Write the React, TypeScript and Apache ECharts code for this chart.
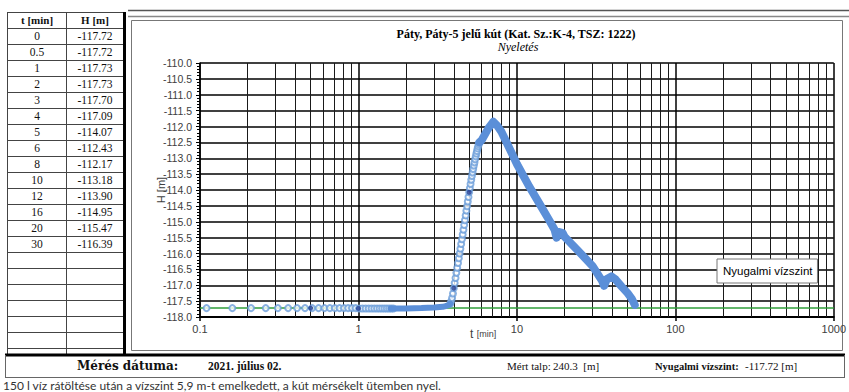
import React, { useEffect, useRef } from "react";
import * as echarts from "echarts";

// ---- data ----
const tableT = [0, 0.5, 1, 2, 3, 4, 5, 6, 8, 10, 12, 16, 20, 30];
const tableH = [-117.72, -117.72, -117.73, -117.73, -117.7, -117.09, -114.07, -112.43, -112.17, -113.18, -113.9, -114.95, -115.47, -116.39];
const restLevel = -117.72;
const emptyRows = 6;

const flatCircleT = [0.11, 0.16, 0.21, 0.26, 0.31, 0.36, 0.41, 0.46, 0.51, 0.56, 0.61, 0.66, 0.71, 0.76, 0.81, 0.86, 0.91, 0.96, 1.01, 1.06, 1.11, 1.16, 1.21, 1.26, 1.31, 1.36, 1.41, 1.46, 1.51, 1.56, 1.61, 1.66];
const flatCircleH = [-117.72, -117.72, -117.72, -117.72, -117.72, -117.72, -117.72, -117.72, -117.72, -117.72, -117.72, -117.72, -117.72, -117.72, -117.72, -117.72, -117.72, -117.72, -117.73, -117.73, -117.73, -117.73, -117.73, -117.73, -117.73, -117.73, -117.73, -117.73, -117.73, -117.73, -117.73, -117.73];

const riseT = [3.8, 3.85, 3.9, 3.95, 4.0, 4.05, 4.1, 4.15, 4.2, 4.25, 4.3, 4.35, 4.4, 4.45, 4.5, 4.55, 4.6, 4.65, 4.7, 4.75, 4.8, 4.85, 4.9, 4.95, 5.0, 5.05, 5.1, 5.15, 5.2, 5.25, 5.3, 5.35, 5.4, 5.45, 5.5, 5.55, 5.6, 5.65, 5.7, 5.75, 5.8];
const riseH = [-117.58, -117.5, -117.4, -117.26, -117.09, -116.93, -116.77, -116.61, -116.45, -116.3, -116.15, -116.0, -115.85, -115.7, -115.55, -115.4, -115.25, -115.1, -114.95, -114.8, -114.65, -114.51, -114.36, -114.22, -114.07, -113.94, -113.81, -113.68, -113.56, -113.45, -113.34, -113.23, -113.13, -113.03, -112.94, -112.85, -112.77, -112.69, -112.62, -112.56, -112.5];

const flatLineT = [1.6, 2, 2.5, 3, 3.4, 3.6, 3.75, 3.8];
const flatLineH = [-117.73, -117.73, -117.72, -117.7, -117.68, -117.65, -117.61, -117.58];

const declineT = [5.8, 6, 6.3, 6.6, 6.9, 7.1, 7.5, 8, 9, 10, 12, 14, 16, 17.3, 17.8, 18.3, 19.5, 20, 24, 30, 34.5, 35.5, 37, 39.5, 42, 46, 50, 53, 55.5];
const declineH = [-112.5, -112.43, -112.24, -112.06, -111.93, -111.85, -111.97, -112.17, -112.7, -113.18, -113.9, -114.46, -114.95, -115.25, -115.5, -115.32, -115.36, -115.47, -115.88, -116.39, -116.86, -117.02, -116.8, -116.72, -116.82, -117.05, -117.25, -117.42, -117.62];

const xTickLabels = ["0.1", "1", "10", "100", "1000"];
const decades = [0.1, 1, 10, 100];
const minorMult = [2, 3, 4, 5, 6, 7, 8, 9];

const titleText = "Páty, Páty-5 jelű kút (Kat. Sz.:K-4, TSZ: 1222)";
const subTitleText = "Nyeletés";
const legendText = "Nyugalmi vízszint";
const captionText = "150 l víz rátöltése után a vízszint 5,9 m-t emelkedett, a kút mérsékelt ütemben nyel.";

const serif = "'Liberation Serif', 'Times New Roman', serif";
const sans = "'Liberation Sans', Arial, sans-serif";

const zip = (a: number[], b: number[]) => a.map((v, i) => [v, b[i]]);

function buildGraphics() {
  const g: any[] = [];
  const ln = (x1: number, y1: number, x2: number, y2: number, stroke: string, lw: number) => ({
    type: "line",
    silent: true,
    shape: { x1, y1, x2, y2 },
    style: { stroke, lineWidth: lw },
  });
  const tx = (
    text: string,
    x: number,
    y: number,
    size: number,
    family: string,
    weight = "normal",
    align = "left",
    fill = "#111",
    fontStyle = "normal"
  ) => ({
    type: "text",
    silent: true,
    x,
    y,
    style: { text, fontSize: size, fontFamily: family, fontWeight: weight, fontStyle, fill, textAlign: align, textVerticalAlign: "middle" },
  });

  // top double rule
  g.push(ln(128, 10.5, 849, 10.5, "#555", 1.5));
  g.push(ln(128, 16.5, 849, 16.5, "#888", 1.5));
  // chart box
  g.push({ type: "rect", silent: true, shape: { x: 131.5, y: 20.5, width: 711, height: 330 }, style: { fill: "none", stroke: "#777", lineWidth: 1 } });

  // table
  const top = 12;
  const rh = 16;
  const nRows = 1 + tableT.length + emptyRows;
  const bottom = 355;
  for (let i = 0; i <= nRows; i++) {
    const y = top + i * rh + 0.5;
    if (y < bottom - 2) g.push(ln(7, y, 123, y, "#444", 1));
  }
  g.push(ln(7.5, top, 7.5, bottom, "#444", 1));
  g.push(ln(66.5, top, 66.5, bottom, "#444", 1));
  g.push(ln(124.5, top, 124.5, bottom, "#000", 3));
  g.push(tx("t [min]", 37, top + 8, 11, serif, "bold", "center"));
  g.push(tx("H [m]", 95, top + 8, 11, serif, "bold", "center"));
  tableT.forEach((t, i) => {
    const y = top + rh * (i + 1) + 8;
    g.push(tx(String(t), 37, y, 11.5, serif, "normal", "center"));
    g.push(tx(tableH[i].toFixed(2), 95, y, 11.5, serif, "normal", "center"));
  });

  // bottom info row
  g.push(ln(5, bottom, 845, bottom, "#000", 3));
  g.push(ln(5.5, bottom, 5.5, 377, "#666", 1));
  g.push(ln(844.5, bottom, 844.5, 377, "#666", 1));
  g.push(ln(5, 377.5, 845, 377.5, "#666", 1));
  g.push(tx("Mérés dátuma:", 77, 366, 12, "'DejaVu Serif', serif", "bold"));
  g.push(tx("2021. július 02.", 208, 366, 11.5, serif, "bold"));
  g.push(tx("Mért talp:", 507, 366, 11, serif));
  g.push(tx("240.3  [m]", 553, 366, 11, serif));
  g.push(tx("Nyugalmi vízszint:", 655, 366, 10.5, serif, "bold"));
  g.push(tx("-117.72 [m]", 745, 366, 11, serif));

  // caption
  g.push(tx(captionText, 3, 385, 12, "Lato, sans-serif", "normal", "left", "#333"));

  // chart title
  g.push(tx(titleText, 516, 34, 12, serif, "bold", "center", "#000"));
  g.push(tx(subTitleText, 518, 47, 12, serif, "normal", "center", "#000", "italic"));

  // x axis name
  g.push({
    type: "text",
    silent: true,
    x: 470,
    y: 334,
    style: {
      text: "{a|t} {b|[min]}",
      textVerticalAlign: "middle",
      rich: {
        a: { fontSize: 12, fontFamily: sans, fill: "#404040" },
        b: { fontSize: 9, fontFamily: sans, fill: "#404040" },
      },
    },
  });
  return g;
}

export default function App() {
  const ref = useRef<HTMLDivElement>(null);
  useEffect(() => {
    document.body.style.margin = "0";
    if (!ref.current) return;
    const chart = echarts.init(ref.current, undefined, { renderer: "svg" });
    const minorGridX: number[] = [];
    decades.forEach((d) => minorMult.forEach((m) => minorGridX.push(+(d * m).toPrecision(6))));
    const tablePts = tableT.map((t, i) => [t, tableH[i]]).filter((p) => p[0] > 0);

    const option: any = {
      animation: false,
      backgroundColor: "#fff",
      textStyle: { fontFamily: sans },
      grid: { left: 200, top: 63, width: 636, height: 254, containLabel: false },
      legend: {
        data: [legendText],
        left: 717,
        top: 259,
        icon: "none",
        itemWidth: 0,
        itemHeight: 0,
        itemGap: 0,
        padding: [6, 5, 6, 1],
        backgroundColor: "#fff",
        borderColor: "#777",
        borderWidth: 1,
        selectedMode: false,
        textStyle: { fontFamily: sans, fontSize: 11.5, color: "#000" },
      },
      xAxis: {
        type: "log",
        logBase: 10,
        min: 0.1,
        max: 1000,
        axisLine: { show: true, onZero: false, lineStyle: { color: "#000", width: 2 } },
        axisTick: { show: true, length: 4, lineStyle: { color: "#000", width: 1.5 } },
        axisLabel: {
          color: "#404040",
          fontSize: 11,
          fontFamily: sans,
          margin: 6,
          formatter: (v: number) => {
            const s = String(+Number(v).toPrecision(6));
            return xTickLabels.includes(s) ? s : "";
          },
        },
        splitLine: { show: true, lineStyle: { color: "#000", width: 1.5 } },
        minorTick: { show: false },
        minorSplitLine: { show: false },
      },
      yAxis: {
        type: "value",
        min: -118,
        max: -110,
        interval: 0.5,
        name: "H [m]",
        nameLocation: "middle",
        nameRotate: 90,
        nameGap: 33,
        nameMoveOverlap: false,
        nameTextStyle: { color: "#404040", fontSize: 11, fontFamily: sans, backgroundColor: "#fff", padding: [1, 2, 1, 2] },
        axisLine: { show: true, lineStyle: { color: "#000", width: 1.5 } },
        axisTick: { show: true, length: 4, lineStyle: { color: "#000", width: 1 } },
        minorTick: { show: true, splitNumber: 5, length: 3, lineStyle: { color: "#000", width: 1 } },
        axisLabel: { color: "#404040", fontSize: 10.5, fontFamily: sans, margin: 8, formatter: (v: number) => v.toFixed(1) },
        splitLine: { show: true, lineStyle: { color: "#000", width: 1.5 } },
      },
      series: [
        {
          name: legendText,
          type: "line",
          data: [
            [0.1, restLevel],
            [1000, restLevel],
          ],
          symbol: "none",
          lineStyle: { color: "#2f9e3a", width: 1.5 },
          itemStyle: { color: "#2f9e3a" },
          z: 2,
          silent: true,
          markLine: {
            silent: true,
            z: 1,
            symbol: ["none", "none"],
            label: { show: false },
            emphasis: { disabled: true },
            lineStyle: { color: "#1a1a1a", width: 1, type: "solid" },
            data: minorGridX.map((v) => ({ xAxis: v })),
          },
        },
        {
          name: "mérés",
          type: "scatter",
          data: [...zip(flatCircleT, flatCircleH), ...zip(riseT, riseH)],
          symbol: "emptyCircle",
          symbolSize: 6,
          itemStyle: { color: "#6c9ed9", borderColor: "#6c9ed9", borderWidth: 1.3 },
          z: 3,
          silent: true,
        },
        {
          name: "táblázat",
          type: "scatter",
          data: tablePts,
          symbol: "circle",
          symbolSize: 5,
          itemStyle: { color: "#1d3a91" },
          z: 4,
          silent: true,
        },
        {
          name: "mérés vonal 1",
          type: "line",
          data: zip(flatLineT, flatLineH),
          symbol: "none",
          lineStyle: { color: "#5b8fd8", width: 6, cap: "round", join: "round" },
          z: 5,
          silent: true,
        },
        {
          name: "mérés vonal 2",
          type: "line",
          data: zip(declineT, declineH),
          symbol: "none",
          lineStyle: { color: "#5b8fd8", width: 8, cap: "round", join: "round" },
          z: 5,
          silent: true,
        },
      ],
      graphic: buildGraphics(),
    };
    chart.setOption(option);
    return () => chart.dispose();
  }, []);
  return <div ref={ref} style={{ position: "absolute", left: 0, top: 0, width: 849, height: 392 }} />;
}
